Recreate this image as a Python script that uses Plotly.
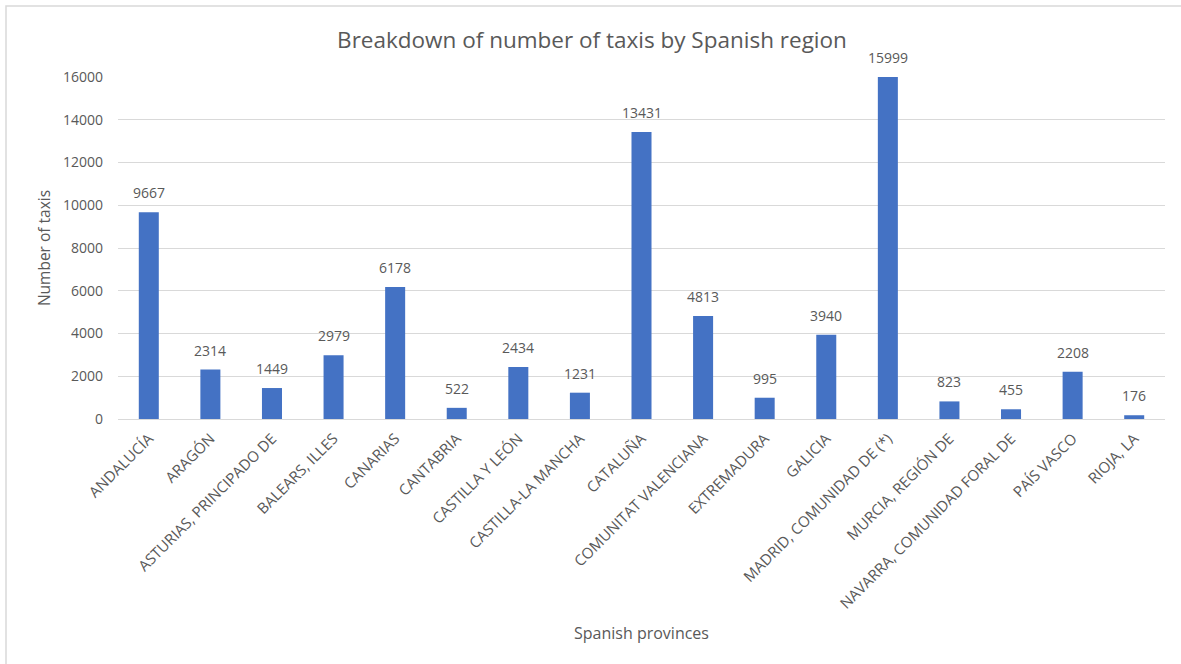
import plotly.graph_objects as go

regions = [
    "ANDALUCÍA", "ARAGÓN", "ASTURIAS, PRINCIPADO DE", "BALEARS, ILLES", "CANARIAS",
    "CANTABRIA", "CASTILLA Y LEÓN", "CASTILLA-LA MANCHA", "CATALUÑA",
    "COMUNITAT VALENCIANA", "EXTREMADURA", "GALICIA", "MADRID, COMUNIDAD DE (*)",
    "MURCIA, REGIÓN DE", "NAVARRA, COMUNIDAD FORAL DE", "PAÍS VASCO", "RIOJA, LA",
]
taxis = [9667, 2314, 1449, 2979, 6178, 522, 2434, 1231, 13431,
         4813, 995, 3940, 15999, 823, 455, 2208, 176]
y_ticks = [0, 2000, 4000, 6000, 8000, 10000, 12000, 14000, 16000]

W, H = 1181, 664
ML, MR, MT, MB = 118, 16, 77, 245
pw, ph = W - ML - MR, H - MT - MB

FONT = "Open Sans"
GREY = "#595959"

fig = go.Figure(
    go.Bar(
        x=regions,
        y=taxis,
        marker=dict(color="#4472C4", line=dict(width=0)),
        cliponaxis=False,
    )
)

# value labels sitting above each bar
for name, val in zip(regions, taxis):
    fig.add_annotation(
        x=name, y=val, xref="x", yref="y", text=str(val),
        showarrow=False, yanchor="bottom", yshift=8,
        font=dict(family=FONT, size=14, color=GREY),
    )

# light frame around the chart area
fig.add_shape(
    type="rect", xref="paper", yref="paper",
    x0=(6 - ML) / pw, x1=(W + 20 - ML) / pw,
    y0=(H - MB - (H + 20)) / ph, y1=(H - MB - 6) / ph,
    line=dict(color="#d9d9d9", width=1.5), fillcolor="rgba(0,0,0,0)", layer="below",
)

# x-axis title placed below the rotated category labels
fig.add_annotation(
    text="Spanish provinces", xref="paper", yref="paper",
    x=0.5, y=(H - MB - 633) / ph, xanchor="center", yanchor="middle",
    showarrow=False, font=dict(family=FONT, size=16, color=GREY),
)

fig.update_layout(
    width=W, height=H,
    margin=dict(l=ML, r=MR, t=MT, b=MB),
    paper_bgcolor="white", plot_bgcolor="white",
    bargap=0.675,
    showlegend=False,
    font=dict(family=FONT, color=GREY),
    title=dict(
        text="Breakdown of number of taxis by Spanish region",
        x=592 / W, xanchor="center", y=1 - 40 / H, yanchor="middle",
        font=dict(family=FONT, size=22.5, color=GREY),
    ),
    xaxis=dict(
        tickangle=-45,
        tickfont=dict(family=FONT, size=15, color=GREY),
        showgrid=False, showline=True, linecolor="#d9d9d9", linewidth=1,
        ticks="", automargin=False, ticklabelstandoff=4,
    ),
    yaxis=dict(
        range=[0, 16000],
        tickvals=y_ticks,
        ticktext=[str(v) for v in y_ticks],
        tickfont=dict(family=FONT, size=14, color=GREY),
        showgrid=True, gridcolor="#d9d9d9", gridwidth=1,
        zeroline=False, showline=False, ticks="", ticklabelstandoff=14,
        automargin=False,
        title=dict(text="Number of taxis", font=dict(family=FONT, size=15.5, color=GREY), standoff=8),
    ),
)

fig.write_html("out.html")
